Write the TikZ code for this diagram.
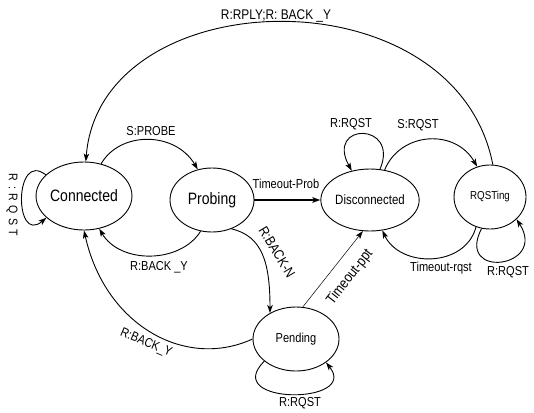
\documentclass[tikz,border=0pt]{standalone}
\usepackage{fontspec}
\setmainfont{Liberation Sans}[FakeStretch=0.85]
\usetikzlibrary{shapes.geometric,arrows.meta}

\tikzset{
  stnode/.style={draw,ellipse,inner sep=0pt,line width=0.9pt},
  lbl/.style={inner sep=0pt,font=\fontsize{13}{15}\selectfont},
  spaced/.style={inner sep=0pt,font={\fontsize{12.5}{15}\selectfont\addfontfeatures{LetterSpace=#1}}},
}

\begin{document}
\begin{tikzpicture}[x=1pt,y=-1pt,line width=0.9pt,>={Stealth[length=8pt,width=5.5pt,inset=2pt]}]
\useasboundingbox (0,0) rectangle (534,412);

\node[stnode,minimum width=84,minimum height=68,font=\fontsize{16.5}{18}\selectfont] (con) at (84,196) {Connected};
\node[stnode,minimum width=84,minimum height=64,font=\fontsize{16.5}{18}\selectfont] (prob) at (212,200) {Probing};
\node[stnode,minimum width=86,minimum height=62,font=\fontsize{13.5}{15}\selectfont] (dis) at (370,200) {Disconnected};
\node[stnode,minimum width=72,minimum height=64,font=\fontsize{11.5}{13}\selectfont] (rqst) at (490,197) {RQSTing};
\node[stnode,minimum width=86,minimum height=64,font=\fontsize{13}{15}\selectfont] (pend) at (296,339) {Pending};

\draw[->] (rqst.85) .. controls (455,-30) and (100,-20) .. (con.87);
\draw[->] (con.62) .. controls (120,131) and (175,131) .. (prob.115);
\draw[->] (prob.250) .. controls (180,264) and (120,264) .. (con.295);
\draw[->,line width=1.8pt] (prob) -- (dis);
\draw[->] (prob.304) .. controls (262,236) and (270,262) .. (pend.135);
\draw[->] (pend.west) .. controls (185,370) and (105,325) .. (con.270);
\draw[->,line width=0.5pt] (pend.78) -- (dis.257);
\draw[->] (dis.72) .. controls (400,122) and (325,122) .. (dis.122);
\draw[->] (dis.64) .. controls (400,132) and (455,128) .. (rqst.113);
\draw[->] (rqst.245) .. controls (465,268) and (400,268) .. (dis.292);
\draw[->] (rqst.255) .. controls (455,280) and (548,268) .. (rqst.320);
\draw[->] (pend.215) .. controls (220,405) and (360,405) .. (pend.322);
\draw[->] (con.151) .. controls (14,150) and (14,245) .. (con.210);

\node[lbl,font=\fontsize{14}{16}\selectfont] (lrply) at (276,16) {R:RPLY;R: BACK \_Y};
\node[lbl] (lprobe) at (151,131) {S:PROBE};
\node[lbl] (lbacky) at (159,267) {R:BACK \_Y};
\node[lbl] (ltprob) at (286,184) {Timeout-Prob};
\node[lbl,font=\fontsize{14}{16}\selectfont,rotate=-59] (lbackn) at (277,252) {R:BACK-N};
\node[lbl,rotate=-23] (lbackyp) at (146,343) {R:BACK\_Y};
\node[lbl,font=\fontsize{14.5}{16}\selectfont,rotate=52] (ltppt) at (350,277) {Timeout-ppt};
\node[lbl] (lrqdis) at (351,124) {R:RQST};
\node[lbl] (lsrqst) at (418,125) {S:RQST};
\node[lbl] (ltrqst) at (441,268) {Timeout-rqst};
\node[lbl] (lrqrq) at (508,272) {R:RQST};
\node[lbl] (lrqpend) at (300,403) {R:RQST};
\node[spaced=35,rotate=-90] (lrqcon) at (12,205) {R:RQST};
\end{tikzpicture}
\end{document}
